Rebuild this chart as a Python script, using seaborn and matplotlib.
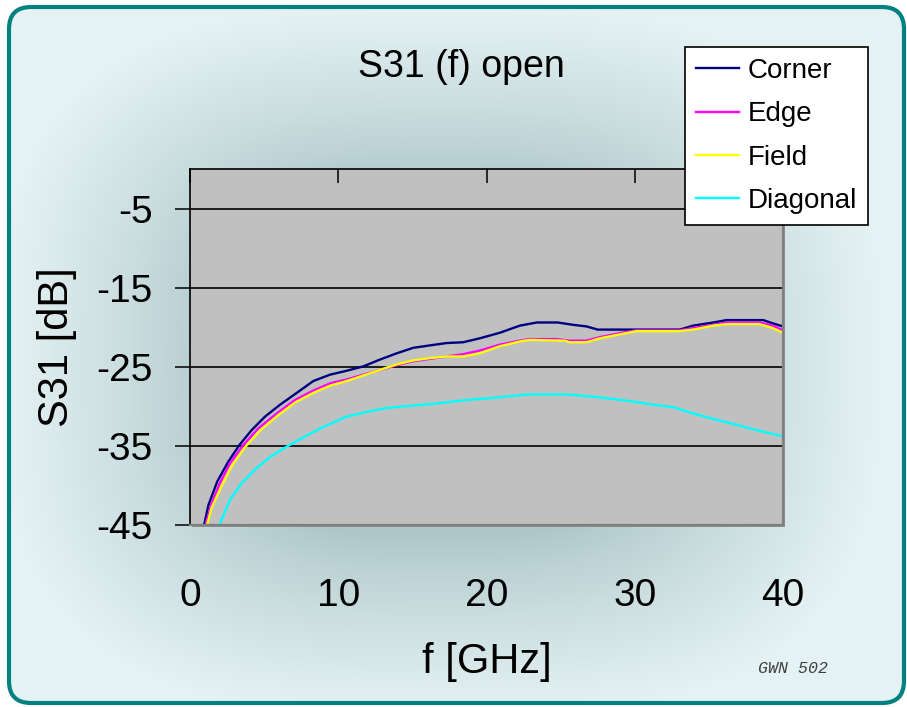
import numpy as np
import pandas as pd
import matplotlib
matplotlib.use("Agg")
import matplotlib.pyplot as plt
from matplotlib.patches import FancyBboxPatch, Rectangle
import seaborn as sns

# S31 transmission curves (dB) versus frequency (GHz)
corner_f = [0.95, 1.24, 1.84, 2.58, 3.33, 4.16, 5.06, 6.07, 7.2, 8.32, 9.44, 10.57,
            11.69, 12.8, 13.94, 15.06, 16.18, 17.3, 18.43, 19.55, 20.9, 22.25, 23.4,
            24.8, 25.85, 26.75, 27.5, 28.5, 30.0, 31.5, 33.04, 33.94, 35.3, 36.2,
            37.5, 38.66, 39.3, 40.0]
corner_db = [-45.0, -42.5, -39.5, -37.0, -34.9, -33.0, -31.3, -29.8, -28.3, -26.8, -26.0,
             -25.5, -24.95, -24.1, -23.3, -22.6, -22.3, -22.0, -21.9, -21.4, -20.7, -19.8,
             -19.4, -19.4, -19.7, -19.9, -20.3, -20.3, -20.3, -20.3, -20.3, -19.8, -19.4,
             -19.1, -19.1, -19.1, -19.5, -19.9]

edge_f = [1.05, 1.46, 2.02, 2.7, 3.6, 4.6, 5.85, 7.08, 8.32, 9.44, 10.57, 11.69, 12.8,
          13.94, 15.06, 16.18, 17.3, 18.43, 19.55, 20.9, 22.25, 22.9, 24.7, 25.6, 26.75,
          27.65, 29.0, 30.1, 33.0, 33.94, 35.3, 36.2, 38.4, 39.3, 40.0]
edge_db = [-45.0, -42.3, -39.7, -37.2, -34.9, -32.8, -30.9, -29.2, -28.0, -27.1, -26.6,
           -26.0, -25.4, -24.8, -24.3, -24.0, -23.7, -23.4, -22.95, -22.2, -21.7, -21.5,
           -21.5, -21.7, -21.7, -21.25, -20.75, -20.4, -20.4, -20.1, -19.7, -19.4, -19.4,
           -19.8, -20.4]

field_f = [1.15, 1.46, 2.13, 2.8, 3.7, 4.7, 5.9, 7.1, 8.32, 9.44, 10.57, 11.69, 12.8,
           13.94, 15.06, 16.18, 17.3, 18.43, 19.55, 20.9, 22.25, 22.9, 25.3, 25.6, 26.75,
           27.65, 29.0, 30.1, 33.0, 33.94, 35.3, 36.2, 38.4, 39.3, 40.0]
field_db = [-45.0, -42.8, -40.1, -37.6, -35.2, -33.1, -31.2, -29.5, -28.3, -27.4, -26.8,
            -26.1, -25.4, -24.7, -24.2, -23.9, -23.7, -23.7, -23.3, -22.4, -21.8, -21.6,
            -21.7, -21.9, -21.9, -21.4, -20.9, -20.5, -20.5, -20.3, -19.8, -19.6, -19.6,
            -20.1, -20.7]

diag_f = [1.98, 2.7, 3.49, 4.38, 5.4, 6.52, 7.76, 9.0, 10.57, 11.92, 13.27, 15.06, 16.86,
          18.66, 20.0, 21.1, 22.8, 25.5, 27.3, 28.66, 29.9, 31.25, 32.6, 33.94, 35.3,
          36.6, 38.2, 40.0]
diag_db = [-45.0, -41.8, -39.7, -38.0, -36.4, -35.1, -33.8, -32.6, -31.3, -30.7, -30.2,
           -29.9, -29.6, -29.2, -29.0, -28.8, -28.5, -28.5, -28.8, -29.1, -29.4, -29.8,
           -30.1, -30.9, -31.6, -32.2, -33.0, -33.8]

series_names = ["Corner", "Edge", "Field", "Diagonal"]
series_colors = ["#000080", "#FF00FF", "#FFFF00", "#00FFFF"]
x_ticks = [0, 10, 20, 30, 40]
y_ticks = [-45, -35, -25, -15, -5]

frames = []
for name, fx, fy in zip(series_names,
                        [corner_f, edge_f, field_f, diag_f],
                        [corner_db, edge_db, field_db, diag_db]):
    frames.append(pd.DataFrame({"f": fx, "S31": fy, "series": name}))
df = pd.concat(frames, ignore_index=True)

plt.rcParams["font.family"] = ["Liberation Sans", "DejaVu Sans"]
plt.rcParams["axes.unicode_minus"] = False

W, H = 907, 707
fig = plt.figure(figsize=(W / 100, H / 100), dpi=100)
fig.patch.set_facecolor("white")

# background panel: rounded frame with a soft centre-dark gradient
bg = fig.add_axes([0, 0, 1, 1], zorder=-10)
bg.set_xlim(0, W)
bg.set_ylim(H, 0)
bg.axis("off")
yy, xx = np.mgrid[0:H, 0:W]
p = 3.0
d = ((np.abs(xx - 440) / 440.0) ** p + (np.abs(yy - 360) / 355.0) ** p) ** (1 / p)
t = np.clip((d - 0.5) / 0.5, 0, 1) ** 0.8
dark = np.array([0.68, 0.78, 0.79])
light = np.array([0.90, 0.95, 0.955])
img = dark + (light - dark) * t[..., None]
im = bg.imshow(img, extent=(0, W, H, 0), interpolation="bilinear", aspect="auto")
clip = FancyBboxPatch((9, 7), 895, 696, boxstyle="round,pad=0,rounding_size=22",
                      transform=bg.transData, fc="none", ec="none")
bg.add_patch(clip)
im.set_clip_path(clip)
bg.add_patch(FancyBboxPatch((9, 7), 895, 696, boxstyle="round,pad=0,rounding_size=22",
                            fc="none", ec="#008080", lw=3))
# drop shadow behind the plot area
bg.add_patch(Rectangle((192, 171), 593, 356, fc="#8E8E8E", ec="none"))

ax = fig.add_axes([190 / W, 1 - 525 / H, 593 / W, 356 / H])
ax.set_facecolor("#C0C0C0")
sns.lineplot(data=df, x="f", y="S31", hue="series", hue_order=series_names,
             palette=series_colors, sort=False, estimator=None, lw=1.7, ax=ax)

ax.set_xlim(0, 40)
ax.set_ylim(-45, 0)
ax.set_xticks(x_ticks)
ax.set_yticks(y_ticks)
ax.set_axisbelow(True)
ax.grid(axis="y", color="black", lw=1.2)
ax.grid(axis="x", visible=False)

ax.tick_params(axis="y", direction="out", length=11, width=1.1, color="black",
               labelsize=28, pad=16)
ax.tick_params(axis="x", bottom=False, top=True, direction="in", length=10, width=1.1,
               color="black", labelsize=28, labelbottom=True, labeltop=False, pad=38)
for s in ["left", "top"]:
    ax.spines[s].set_color("black")
    ax.spines[s].set_linewidth(1.2)
for s in ["right", "bottom"]:
    ax.spines[s].set_color("#7F7F7F")
    ax.spines[s].set_linewidth(1.6)

ax.set_xlabel("f [GHz]", fontsize=30)
ax.set_ylabel("S31 [dB]", fontsize=30)
ax.xaxis.set_label_coords(0.5, -0.33)
ax.yaxis.set_label_coords(-0.19, 0.5)
ax.set_title("S31 (f) open", fontsize=27, x=0.457, y=1.258, pad=0)

handles, labels = ax.get_legend_handles_labels()
leg = ax.legend(handles, labels, loc="upper left",
                bbox_to_anchor=(685 / W, 1 - 47 / H), bbox_transform=fig.transFigure,
                borderaxespad=0, fontsize=20, handlelength=1.55, handletextpad=0.3,
                labelspacing=0.62, borderpad=0.4, fancybox=False, framealpha=1,
                edgecolor="black", facecolor="white")
leg.get_frame().set_linewidth(1.2)
for line in leg.get_lines():
    line.set_linewidth(1.7)

fig.text(758 / W, 1 - 673 / H, "GWN 502", fontsize=12, style="italic",
         family=["Liberation Mono", "DejaVu Sans Mono"], color="#404040",
         ha="left", va="baseline")

fig.savefig("out.png", dpi=100)
